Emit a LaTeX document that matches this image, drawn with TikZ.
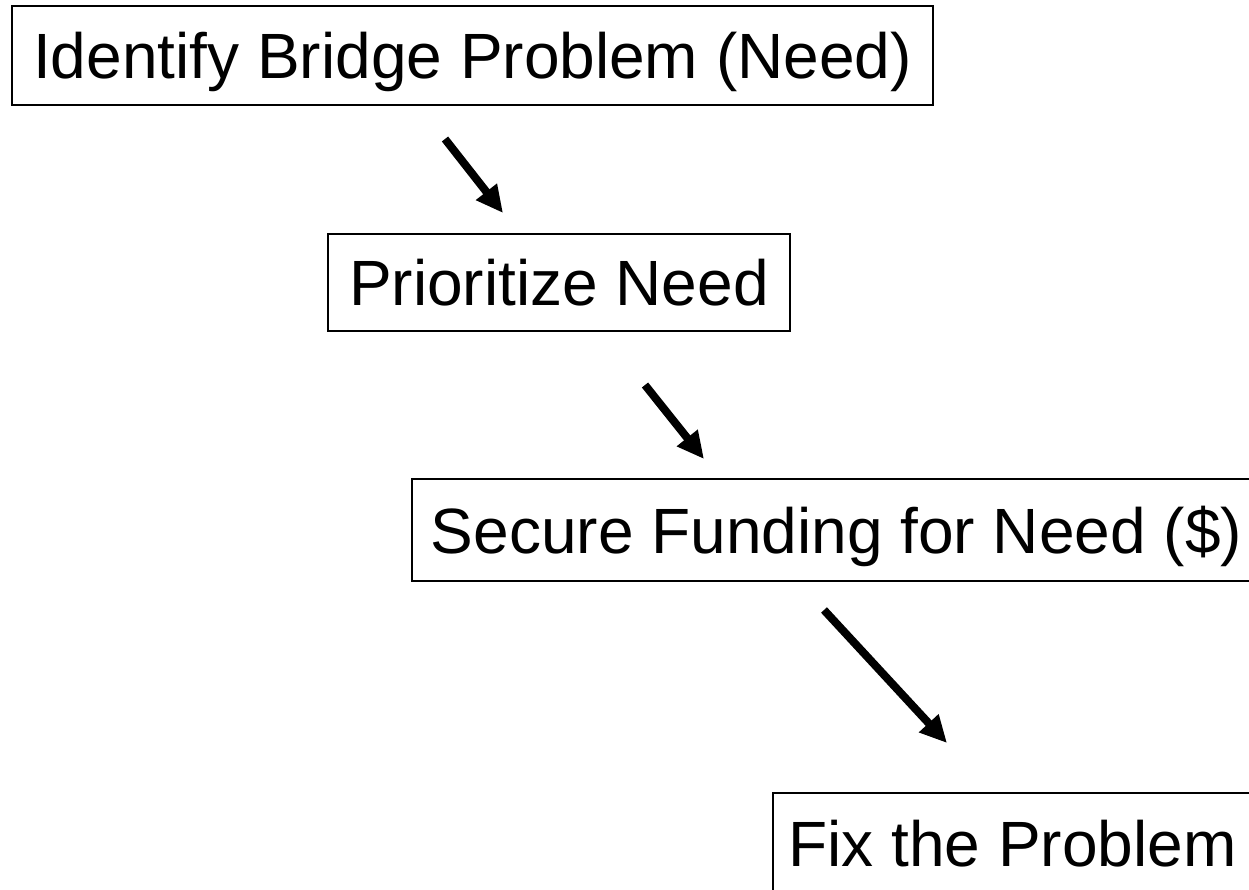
\documentclass[tikz,border=0pt]{standalone}
\usepackage{fontspec}
\setmainfont{Liberation Sans}
\usetikzlibrary{arrows.meta}

\begin{document}
\begin{tikzpicture}[x=1pt,y=-1pt,
    stagebox/.style={draw,line width=2pt,inner sep=0pt,
      font=\fontsize{64pt}{64pt}\selectfont,text height=46pt,text depth=0pt},
    flowarrow/.style={line width=8pt,-{Triangle[length=27pt,width=25pt]}}]
        \def\W{1249}
        \def\H{889}

        %------------------
        % 描画範囲
        %------------------
        \useasboundingbox (0,0) rectangle (\W,\H);
        \clip (0,0) rectangle (\W,\H);

        %------------------
        % 各段階の枠
        %------------------
        \node[stagebox,minimum width=921pt,minimum height=99pt] (need) at (472.5,55.5) {Identify Bridge Problem (Need)};
        \node[stagebox,minimum width=462pt,minimum height=97pt] (prio) at (559,282.5) {Prioritize Need};
        \node[stagebox,minimum width=849pt,minimum height=102pt] (fund) at (836.5,530) {Secure Funding for Need (\$)};
        \node[stagebox,minimum width=479pt,minimum height=100pt] (fix) at (1012.5,843) {Fix the Problem};

        %------------------
        % 矢印
        %------------------
        \coordinate (a1s) at (445,139);
        \coordinate (a1e) at (503,213);
        \coordinate (a2s) at (645,385);
        \coordinate (a2e) at (704,459);
        \coordinate (a3s) at (824,610);
        \coordinate (a3e) at (947,743);

        \draw[flowarrow] (a1s)--(a1e);
        \draw[flowarrow] (a2s)--(a2e);
        \draw[flowarrow] (a3s)--(a3e);
      \end{tikzpicture}
\end{document}
